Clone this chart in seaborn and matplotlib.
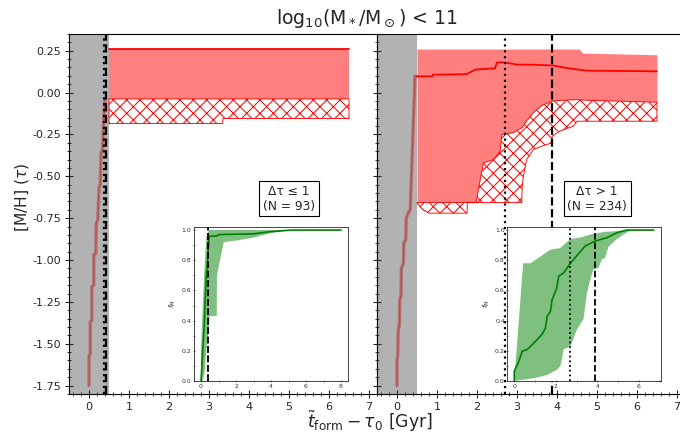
import numpy as np
import matplotlib
matplotlib.use("Agg")
import matplotlib.pyplot as plt
from matplotlib.ticker import MultipleLocator, FormatStrFormatter
import seaborn as sns

sns.set_style("ticks")
plt.rcParams['font.family'] = ['DejaVu Sans']
plt.rcParams['hatch.linewidth'] = 0.9
plt.rcParams['mathtext.fontset'] = 'dejavusans'

# ---------------- data ----------------
title_text = r'$\rm log_{10}(M_*/M_\odot)$ < 11'
xlabel_text = r'$\tilde{t}_{\rm form} - \tau_0$ [Gyr]'
ylabel_text = r'[M/H] ($\tau$)'
inset_ylabel = r'$f_M$'

gray_span = [-0.5, 0.5]

# Left panel (dtau <= 1)
left_label = 'Δτ ≤ 1\n(N = 93)'
left_track_t = [0.00, 0.00, 0.03, 0.03, 0.07, 0.07, 0.12, 0.12, 0.17, 0.18, 0.22, 0.25,
                0.28, 0.30, 0.34, 0.36, 0.40]
left_track_mh = [-1.75, -1.57, -1.56, -1.37, -1.36, -1.16, -1.15, -0.97, -0.96, -0.78,
                 -0.76, -0.57, -0.55, -0.36, -0.34, -0.19, -0.04]
left_band_t = [0.5, 3.34, 3.35, 6.5]
left_upper = [0.26, 0.26, 0.26, 0.26]
left_lower = [-0.038, -0.038, -0.038, -0.038]
left_floor = [-0.185, -0.185, -0.155, -0.155]
left_median = [0.262, 0.262, 0.262, 0.262]
left_tdot = 0.38
left_tdash = 0.42

# Right panel (dtau > 1)
right_label = 'Δτ > 1\n(N = 234)'
right_track_t = [0.00, 0.00, 0.02, 0.03, 0.06, 0.07, 0.10, 0.11, 0.16, 0.17, 0.22, 0.23,
                 0.28, 0.33, 0.45, 0.50]
right_track_mh = [-1.75, -1.60, -1.57, -1.42, -1.39, -1.24, -1.21, -1.05, -1.02, -0.90,
                  -0.875, -0.75, -0.72, -0.70, 0.097, 0.097]
right_band_t = [0.50, 0.65, 0.80, 1.75, 1.76, 1.98, 2.03, 2.16, 2.41, 2.58, 2.62, 2.91,
                3.12, 3.13, 3.16, 3.24, 3.41, 3.62, 3.87, 3.88, 4.08, 4.41, 4.50, 4.55,
                4.65, 6.50]
right_upper = [0.26, 0.26, 0.26, 0.26, 0.26, 0.26, 0.26, 0.26, 0.26, 0.26, 0.26, 0.26,
               0.26, 0.26, 0.26, 0.26, 0.26, 0.26, 0.26, 0.26, 0.26, 0.26, 0.26, 0.26,
               0.236, 0.226]
right_lower = [-0.657, -0.657, -0.657, -0.657, -0.657, -0.657, -0.587, -0.42, -0.40, -0.35,
               -0.25, -0.24, -0.21, -0.21, -0.20, -0.17, -0.12, -0.077, -0.052, -0.05,
               -0.047, -0.043, -0.042, -0.042, -0.045, -0.058]
right_floor = [-0.66, -0.70, -0.72, -0.72, -0.657, -0.657, -0.657, -0.657, -0.657, -0.657,
               -0.657, -0.657, -0.657, -0.56, -0.50, -0.40, -0.34, -0.32, -0.30, -0.26,
               -0.23, -0.20, -0.171, -0.171, -0.171, -0.171]
right_med_t = [0.50, 0.89, 0.90, 1.74, 1.95, 2.45, 2.50, 2.70, 3.00, 3.30, 3.90, 4.20, 4.74, 6.50]
right_med_mh = [0.097, 0.097, 0.107, 0.11, 0.137, 0.145, 0.18, 0.18, 0.167, 0.167, 0.162,
                0.148, 0.131, 0.127]
right_tdot = 2.70
right_tdash = 3.88

# Left inset (cumulative mass fraction)
li_t = [0.00, 0.08, 0.19, 0.30, 0.47, 0.90, 1.00, 3.00, 4.00, 5.20, 8.00]
li_med = [0.00, 0.16, 0.39, 0.69, 0.96, 0.96, 0.97, 0.975, 0.99, 1.00, 1.00]
li_band_t = [0.00, 0.10, 0.20, 0.30, 0.45, 0.50, 0.90, 0.91, 1.30, 2.00, 3.00, 4.00, 5.20, 8.00]
li_lo = [0.00, 0.00, 0.05, 0.20, 0.35, 0.43, 0.43, 0.70, 0.92, 0.93, 0.95, 0.98, 1.00, 1.00]
li_hi = [0.20, 0.50, 0.75, 0.95, 1.00, 1.00, 1.00, 1.00, 1.00, 1.00, 1.00, 1.00, 1.00, 1.00]

# Right inset
ri_t = [0.00, 0.00, 0.22, 0.38, 0.62, 0.86, 1.10, 1.34, 1.50, 1.58, 1.74, 1.82, 2.03, 2.14,
        2.38, 2.70, 3.01, 3.41, 3.89, 4.45, 4.93, 5.41, 6.71]
ri_med = [0.00, 0.064, 0.13, 0.197, 0.208, 0.24, 0.274, 0.31, 0.35, 0.43, 0.46, 0.54, 0.61,
          0.695, 0.717, 0.78, 0.83, 0.894, 0.927, 0.949, 0.982, 1.00, 1.00]
ri_hi_t = [0.00, 0.43, 0.78, 1.10, 1.74, 2.20, 2.70, 3.17, 3.65, 4.30, 4.93, 5.41, 6.71]
ri_hi = [0.00, 0.78, 0.78, 0.81, 0.87, 0.88, 0.94, 0.95, 0.97, 0.987, 0.993, 1.00, 1.00]
ri_lo_t = [0.00, 1.00, 1.58, 2.06, 2.22, 2.38, 2.70, 2.86, 3.01, 3.33, 3.49, 3.65, 3.81, 4.05,
           4.21, 4.37, 4.53, 4.93, 5.25, 5.49, 5.89, 6.71]
ri_lo = [0.00, 0.02, 0.04, 0.075, 0.10, 0.21, 0.23, 0.285, 0.34, 0.41, 0.58, 0.67, 0.74, 0.75,
         0.805, 0.816, 0.89, 0.94, 0.97, 0.99, 1.00, 1.00]

# ---------------- figure ----------------
fig = plt.figure(figsize=(8.5, 5.425), dpi=80)
axL = fig.add_axes([0.1015, 0.0922, 0.4529, 0.8295])
axR = fig.add_axes([0.5544, 0.0922, 0.4529, 0.8295])


def main_panel(ax, track_t, track_mh, band_t, upper, lower, floor, med_t, med_mh,
               tdot, tdash, label):
    ax.axvspan(gray_span[0], gray_span[1], color='gray', alpha=0.6, lw=0, zorder=0)
    ax.plot(track_t, track_mh, color='firebrick', alpha=0.45, lw=3.0, zorder=2,
            solid_joinstyle='miter')
    ax.plot(track_t, track_mh, color='#c04848', alpha=0.9, lw=0.9, zorder=2)
    ax.fill_between(band_t, lower, upper, color='red', alpha=0.5, lw=0, zorder=1)
    ax.fill_between(band_t, floor, lower, facecolor='white', edgecolor='red',
                    hatch='xx', lw=0.8, zorder=1.5)
    sns.lineplot(x=med_t, y=med_mh, ax=ax, color='red', lw=1.6, sort=False,
                 estimator=None, zorder=3)
    ax.axvline(tdot, color='black', ls=':', lw=2, zorder=4)
    ax.axvline(tdash, color='black', ls='--', lw=2, zorder=4)
    ax.set_xlim(-0.5, 7.2)
    ax.set_ylim(-1.8, 0.35)
    ax.xaxis.set_major_locator(MultipleLocator(1))
    ax.xaxis.set_minor_locator(MultipleLocator(0.2))
    ax.yaxis.set_major_locator(MultipleLocator(0.25))
    ax.yaxis.set_minor_locator(MultipleLocator(0.05))
    ax.tick_params(which='major', direction='inout', length=7, width=1, labelsize=10)
    ax.tick_params(which='minor', direction='inout', length=3.5, width=0.8)
    for s in ax.spines.values():
        s.set_linewidth(1)
        s.set_color('black')
    ax.text(0.715, 0.542, label, transform=ax.transAxes, ha='center', va='center',
            fontsize=11, zorder=6, linespacing=1.15,
            bbox=dict(boxstyle='square,pad=0.3', facecolor='white', edgecolor='black', lw=1))
    ax.set_xlabel('')
    ax.set_ylabel('')


main_panel(axL, left_track_t, left_track_mh, left_band_t, left_upper, left_lower, left_floor,
           left_band_t, left_median, left_tdot, left_tdash, left_label)
main_panel(axR, right_track_t, right_track_mh, right_band_t, right_upper, right_lower,
           right_floor, right_med_t, right_med_mh, right_tdot, right_tdash, right_label)
axR.tick_params(labelleft=False)
axL.yaxis.set_major_formatter(FormatStrFormatter('%.2f'))


def inset(rect, t, med, fill_x, fill_y, tdot, tdash):
    ax = fig.add_axes(rect)
    ax.fill(fill_x, fill_y, color='green', alpha=0.5, lw=0, zorder=1)
    sns.lineplot(x=t, y=med, ax=ax, color='green', lw=1.5, sort=False,
                 estimator=None, zorder=3)
    ax.axvline(tdot, color='black', ls=':', lw=1.6, zorder=4)
    ax.axvline(tdash, color='black', ls='--', lw=1.6, zorder=4)
    ax.set_ylim(0, 1.02)
    ax.yaxis.set_major_locator(MultipleLocator(0.2))
    ax.yaxis.set_minor_locator(MultipleLocator(0.1))
    ax.xaxis.set_major_locator(MultipleLocator(2))
    ax.xaxis.set_minor_locator(MultipleLocator(1))
    ax.tick_params(which='major', direction='inout', length=2.5, width=0.6, labelsize=5.5,
                   pad=1, labelcolor='#333333')
    ax.tick_params(which='minor', direction='inout', length=1.5, width=0.5)
    ax.yaxis.set_major_formatter(FormatStrFormatter('%.1f'))
    for s in ax.spines.values():
        s.set_linewidth(0.8)
        s.set_color('#333333')
    ax.set_ylabel(inset_ylabel, fontsize=6.5, labelpad=3)
    ax.set_xlabel('')
    return ax


li_fx = list(li_band_t) + list(li_band_t[::-1])
li_fy = list(li_hi) + list(li_lo[::-1])
axLi = inset([0.2853, 0.1221, 0.2265, 0.3548], li_t, li_med, li_fx, li_fy,
             left_tdot, left_tdash)
axLi.set_xlim(-0.4, 8.4)

ri_fx = list(ri_hi_t) + list(ri_lo_t[::-1])
ri_fy = list(ri_hi) + list(ri_lo[::-1])
axRi = inset([0.746, 0.1221, 0.2256, 0.3548], ri_t, ri_med, ri_fx, ri_fy,
             right_tdot, right_tdash)
axRi.set_xlim(-0.335, 7.04)

fig.text(0.539, 0.958, title_text, ha='center', va='center', fontsize=17)
fig.text(0.544, 0.029, xlabel_text, ha='center', va='center', fontsize=15.5)
fig.text(0.033, 0.546, ylabel_text, ha='center', va='center', fontsize=14, rotation=90)

fig.savefig('out.png', dpi=80)
